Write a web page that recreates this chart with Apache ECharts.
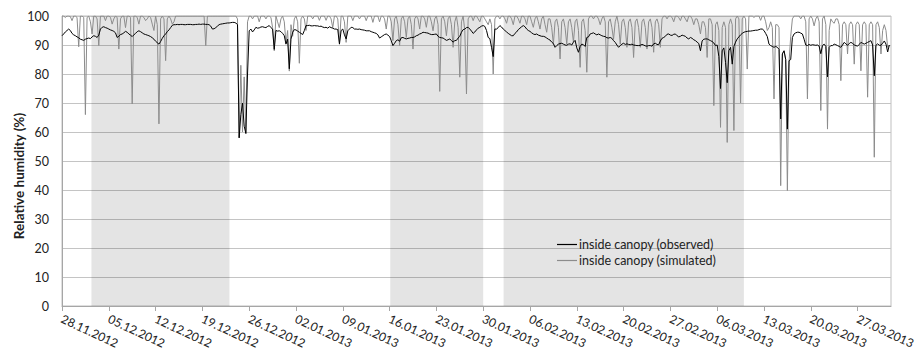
<!DOCTYPE html>
<html>
<head>
<meta charset="utf-8">
<script src="https://cdn.jsdelivr.net/npm/echarts@6/dist/echarts.min.js"></script>
<style>
html,body{margin:0;padding:0;background:#fff;}
#chart{width:916px;height:352px;}
</style>
</head>
<body>
<div id="chart"></div>
<script>
// Time axis: days since 28.11.2012 00:00, one value every 6 hours
const startDateUTC = Date.UTC(2012, 10, 28);
const stepDays = 0.25;
const tickDays = [0, 7, 14, 21, 28, 35, 42, 49, 56, 63, 70, 77, 84, 91, 98, 105, 112, 119];
const axisMaxDay = 124;
const yTicks = [0, 10, 20, 30, 40, 50, 60, 70, 80, 90, 100];
const seriesNames = ['inside canopy (observed)', 'inside canopy (simulated)'];
// shaded periods [startDay, endDay]
const shadedPeriods = [[4.4, 25.05], [49.1, 63.0], [66.05, 102.0]];

// observed relative humidity (%), 4 values per day (00,06,12,18 h)
const observed = [
 93.2,93.8,94.5,95.0, 95.5,95.0,94.0,93.5, 93.2,92.8,92.5,92.0, 91.8,91.6,92.0,92.2,
 92.4,92.2,92.8,93.2, 93.0,92.6,93.4,95.5, 96.1,96.3,96.0,95.8, 95.5,95.2,95.0,94.7,
 94.2,92.6,93.0,93.6, 93.8,94.2,94.7,94.4, 93.8,93.4,92.9,93.5, 94.0,94.6,94.9,94.6,
 94.2,93.8,93.6,93.4, 93.2,92.9,92.5,92.0, 91.3,90.8,90.3,91.2, 92.3,93.2,93.8,94.6,
 95.2,96.0,96.8,97.0, 97.0,97.1,97.0,97.1, 97.1,97.0,97.0,97.1, 97.1,97.1,97.0,97.0,
 97.1,97.1,97.2,97.1, 97.2,97.2,97.1,97.1, 97.0,96.5,95.5,95.6, 96.0,96.5,97.0,97.2,
 97.3,97.4,97.5,97.6, 97.6,97.7,97.8,97.8, 97.6,97.0,58.0,66.0, 70.0,62.0,59.5,80.0,
 94.9,95.5,94.5,95.2, 96.1,95.8,95.9,96.2, 96.3,96.1,96.0,96.4, 96.7,96.0,95.5,88.5,
 95.0,94.8,94.9,94.6, 94.0,93.2,90.3,92.0, 81.8,92.0,94.4,95.3, 95.2,94.8,94.4,94.0,
 93.6,95.0,96.7,96.7, 96.8,96.6,96.6,96.7, 96.6,96.6,96.4,96.5, 96.2,96.0,96.1,95.8,
 96.3,96.0,95.8,95.5, 95.5,95.3,90.3,95.0, 95.5,93.5,92.1,94.9, 95.5,96.1,96.0,95.5,
 95.5,95.4,95.5,95.3, 95.2,95.1,94.9,94.9, 94.9,94.6,94.4,94.2, 94.0,93.5,92.4,92.8,
 93.2,93.6,93.8,93.4, 92.9,91.5,89.8,90.6, 91.5,91.8,91.3,92.5, 92.6,92.3,92.1,92.3,
 92.4,92.6,92.6,92.8, 93.2,93.4,93.8,94.0, 94.4,94.3,94.2,94.1, 93.8,93.6,93.6,93.7,
 93.8,93.0,92.6,92.5, 92.4,92.0,91.6,91.8, 92.1,91.5,91.0,91.5, 91.6,92.4,93.0,94.4,
 95.3,95.5,96.0,96.1, 95.5,94.8,94.0,94.5, 95.2,95.8,96.1,96.5, 96.7,96.4,95.0,92.6,
 92.2,89.2,86.0,95.5, 95.5,96.0,96.7,96.2, 95.5,95.0,94.5,94.0, 93.6,93.2,93.2,94.0,
 94.5,95.3,95.8,96.3, 96.7,96.3,95.5,95.0, 94.7,94.2,93.8,93.6, 93.8,93.4,93.2,93.0,
 93.0,92.8,92.4,92.0, 91.7,91.0,90.5,89.2, 89.8,90.3,90.5,90.6, 90.3,90.0,89.9,90.3,
 90.4,90.0,91.0,91.6, 89.0,87.5,89.5,90.3, 90.1,89.5,92.6,92.8, 93.8,94.0,94.2,93.8,
 93.5,93.8,93.5,93.2, 93.0,92.9,92.5,92.4, 92.6,92.3,91.5,90.9, 90.0,89.2,89.8,90.3,
 90.6,90.2,90.4,90.2, 90.1,90.3,90.0,89.9, 89.8,89.8,89.9,90.2, 90.0,89.7,89.6,89.8,
 89.8,89.6,90.4,90.6, 90.2,90.1,91.4,92.3, 92.6,93.0,93.7,93.8, 93.4,93.3,93.7,93.8,
 93.2,92.8,93.0,93.4, 93.2,93.0,92.4,92.1, 92.6,92.3,91.8,91.5, 91.0,90.5,88.0,91.4,
 92.0,92.1,92.1,91.8, 91.5,91.2,90.7,89.8, 90.0,86.0,75.0,88.0, 89.0,84.0,77.0,88.0,
 89.2,83.4,89.5,91.0, 92.1,92.8,93.5,94.0, 94.4,94.6,94.7,94.8, 94.8,94.9,95.0,95.1,
 95.1,95.3,95.5,95.5, 95.0,94.0,92.9,90.3, 89.8,89.5,89.2,89.5, 89.2,88.5,64.5,86.9,
 88.0,85.0,61.0,84.6, 85.0,92.6,93.8,94.2, 94.4,94.4,94.1,93.8, 92.0,90.0,89.8,90.2,
 89.9,90.1,90.0,89.9, 90.0,89.6,87.0,89.8, 90.3,89.5,79.0,89.2, 89.8,89.8,90.3,90.1,
 89.8,89.5,89.2,90.0, 90.9,90.4,89.9,90.5, 90.9,90.6,90.0,89.8, 89.6,90.2,90.9,90.6,
 90.3,90.6,90.9,91.2, 91.5,90.0,79.4,89.9, 90.4,89.9,89.9,90.6, 91.4,90.3,87.6,90.0
];

// simulated relative humidity (%), 4 values per day (00,06,12,18 h)
const simulated = [
 100,100,99.5,100, 100,99.8,98.4,100, 100,99.5,89.4,100, 100,99.5,66.0,99.5,
 100,98.0,93.8,100, 100,99.0,89.8,100, 100,100,98.4,100, 100,99.5,97.2,99.0,
 100,99.5,88.6,99.0, 100,100,96.0,100, 100,99.5,69.7,100, 100,99.5,97.2,100,
 100,99.5,98.4,99.0, 100,99.5,97.2,95.0, 100,97.0,62.8,99.0, 100,99.0,84.6,99.0,
 100,99.0,97.2,98.0, 100,100,100,100, 100,100,100,100, 100,100,100,100,
 100,100,100,100, 100,100,89.8,100, 100,100,100,100, 100,100,100,100,
 100,100,100,100, 100,100,100,100, 100,99.0,58.0,83.0, 60.0,79.0,59.5,98.0,
 100,100,99.0,100, 100,100,98.0,100, 100,100,99.0,100, 100,99.5,96.0,88.0,
 100,98.0,96.0,99.0, 100,98.0,90.6,95.0, 81.0,97.0,93.0,99.0, 100,98.0,83.7,99.0,
 100,99.0,95.0,100, 100,100,99.0,100, 100,100,98.5,100, 100,100,98.5,100,
 100,99.0,96.0,100, 100,99.0,90.9,100, 100,98.0,90.9,100, 100,100,98.4,100,
 100,100,99.0,100, 100,100,98.4,100, 100,100,97.8,100, 100,100,98.0,100,
 100,99.0,95.5,100, 100,98.0,91.5,99.0, 100,97.0,89.8,99.0, 100,98.0,92.6,99.0,
 100,97.0,88.6,99.0, 100,99.0,95.5,100, 100,99.0,96.1,100, 100,98.0,94.9,99.0,
 100,97.0,74.0,99.0, 100,98.0,93.2,99.0, 100,97.0,89.2,98.0, 100,96.0,78.9,98.0,
 100,95.0,73.1,99.0, 100,100,98.4,100, 100,99.0,98.0,100, 100,99.0,98.0,97.0,
 99.0,97.0,80.0,99.0, 100,100,99.0,100, 100,99.0,97.5,100, 100,99.0,97.0,100,
 100,99.0,97.5,100, 100,99.0,97.0,100, 100,98.0,96.1,99.0, 100,98.0,95.5,99.0,
 100,97.0,94.4,99.0, 99.0,96.0,90.3,98.0, 99.0,96.0,85.2,98.0, 99.0,96.0,90.3,98.0,
 99.0,96.0,91.0,98.0, 99.0,95.0,82.3,98.0, 99.0,95.0,80.6,99.0, 100,100,99.0,100,
 100,99.0,97.0,99.0, 100,98.0,78.9,98.0, 99.0,96.0,92.0,98.0, 100,97.0,90.3,98.0,
 99.0,96.0,89.2,98.0, 99.0,96.0,85.7,98.0, 99.0,96.0,89.2,98.0, 99.0,96.0,88.6,98.0,
 99.0,96.0,87.5,98.0, 99.0,97.0,89.2,99.0, 100,100,99.0,100, 100,99.5,98.0,100,
 100,99.5,98.4,100, 100,99.0,98.0,100, 100,99.0,97.0,99.0, 99.0,97.0,93.8,98.0,
 98.0,96.0,85.7,99.0, 99.0,97.0,69.1,97.0, 98.0,95.0,61.6,96.0, 98.0,96.0,56.4,97.0,
 99.0,97.0,60.5,99.0, 100,99.0,70.0,99.0, 100,99.0,81.7,100, 100,100,99.5,100,
 100,100,98.5,100, 100,98.0,95.0,96.0, 98.0,96.0,71.4,97.0, 97.0,96.0,41.5,87.0,
 88.0,85.0,39.8,84.0, 93.0,99.0,100,100, 100,100,99.0,100, 100,98.0,71.4,99.0,
 100,99.0,96.6,99.0, 100,98.0,67.4,99.0, 100,97.0,61.0,95.0, 99.0,98.0,97.5,99.0,
 99.0,97.0,77.7,97.0, 98.0,97.0,86.9,97.0, 98.0,97.0,83.4,97.0, 98.0,97.0,81.1,97.0,
 98.0,97.0,72.0,97.0, 98.0,97.0,51.3,97.0, 98.0,96.0,86.9,95.0, 97.0,95.0,89.2,90.0
];

function pair(values) {
  return values.map((v, i) => [i * stepDays, v]);
}
function dayLabel(d) {
  const dt = new Date(startDateUTC + Math.round(d * 86400000));
  const dd = String(dt.getUTCDate()).padStart(2, '0');
  const mm = String(dt.getUTCMonth() + 1).padStart(2, '0');
  return dd + '.' + mm + '.' + dt.getUTCFullYear();
}

const chart = echarts.init(document.getElementById('chart'), null, {renderer: 'svg'});
const FONT = 'Lato';
chart.setOption({
  animation: false,
  backgroundColor: '#ffffff',
  textStyle: {fontFamily: FONT},
  grid: {left: 62, right: 25, top: 16, bottom: 46, show: true, borderColor: '#bfbfbf', borderWidth: 1,
    containLabel: false, outerBoundsMode: 'none'},
  legend: {
    orient: 'vertical', left: 552, top: 233, icon: 'rect', itemWidth: 20, itemHeight: 1.2, itemGap: 3,
    textStyle: {fontFamily: FONT, fontSize: 12.5, color: '#222', padding: [0,0,0,-3]},
    data: seriesNames
  },
  xAxis: {
    type: 'value', min: 0, max: axisMaxDay,
    splitLine: {show: false},
    axisLine: {lineStyle: {color: '#a6a6a6', width: 1}},
    axisTick: {show: true, length: 5, lineStyle: {color: '#a6a6a6'}, customValues: tickDays},
    axisLabel: {customValues: tickDays, rotate: -25, margin: 12, fontFamily: FONT, fontSize: 12, color: '#222',
      formatter: v => dayLabel(v)}
  },
  yAxis: {
    type: 'value', min: yTicks[0], max: yTicks[yTicks.length - 1], interval: 10,
    name: 'Relative humidity (%)', nameLocation: 'middle', nameGap: 36, nameRotate: 90, nameMoveOverlap: false,
    nameTextStyle: {fontFamily: FONT, fontSize: 13.5, fontWeight: 'bold', color: '#222', padding: [0, 30, 0, 0]},
    axisLine: {show: true, lineStyle: {color: '#a6a6a6', width: 1}},
    axisTick: {show: false},
    axisLabel: {margin: 13, fontFamily: FONT, fontSize: 12.5, color: '#222'},
    splitLine: {show: true, lineStyle: {color: '#c4c4c4', width: 1}}
  },
  series: [
    {
      name: seriesNames[0], type: 'line', data: pair(observed), showSymbol: false, symbol: 'none',
      lineStyle: {color: '#000000', width: 1}, itemStyle: {color: '#000000'}, z: 3,
      markArea: {silent: true, itemStyle: {color: 'rgba(0,0,0,0.105)'},
        data: shadedPeriods.map(p => [{xAxis: p[0]}, {xAxis: p[1]}])}
    },
    {
      name: seriesNames[1], type: 'line', data: pair(simulated), showSymbol: false, symbol: 'none',
      lineStyle: {color: '#8c8c8c', width: 1}, itemStyle: {color: '#8c8c8c'}, z: 2
    }
  ]
});
</script>
</body>
</html>
